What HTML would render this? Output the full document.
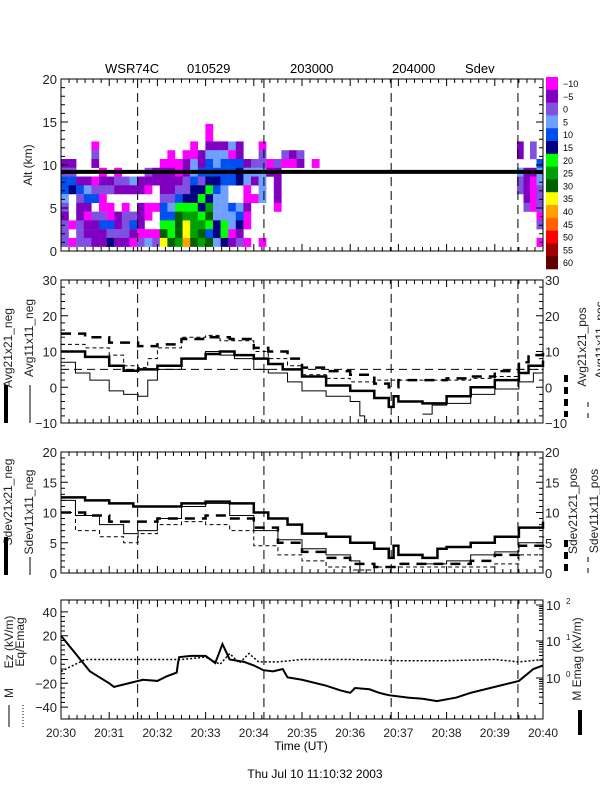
<!DOCTYPE html>
<html><head><meta charset="utf-8"><style>
html,body{margin:0;padding:0;background:#fff;}
svg{display:block;font-family:"Liberation Sans",sans-serif;}
</style></head><body>
<svg id="chart" width="600" height="800" viewBox="0 0 600 800" xmlns="http://www.w3.org/2000/svg">
<rect width="600" height="800" fill="#fff"/>
<g id="title" font-size="13" fill="#000">
<text x="105" y="73">WSR74C</text><text x="187" y="73">010529</text><text x="290" y="73">203000</text><text x="392" y="73">204000</text><text x="465" y="73">Sdev</text>
</g>
<g id="heat"></g>
<g id="colorbar"></g>
<g id="axes"></g>
<g id="lines"></g>
<text x="301" y="750" font-size="12" text-anchor="middle">Time (UT)</text>
<text x="315" y="778" font-size="12" text-anchor="middle">Thu Jul 10 11:10:32 2003</text>
</svg>
<script>
// ---------- data ----------
const colorLevels = ["-10","-5","0","5","10","15","20","25","30","35","40","45","50","55","60"];
const colorHex = ["#ff00ff","#8000c0","#8050e0","#70a0ff","#0050f0","#000080","#00ff00","#00a000","#006000","#ffff00","#ffa000","#ff6000","#ff0000","#a00000","#600000"];
// heatmap rows: altitude 14 km (top) to 1 km; letters a..o index colorLevels, '.' empty
const heatRowsLeft = [
"...................a",
"...................a",
"....a............a.bbbdb..a",
"....c.........a.aabdddab..c..cbc",
"bb..b........aaabdbedeeebccacaab.a",
"cc...a.a...cbbbabdeeeeefdddbb",
"eebbabbccdbbbbbbcecffeefdbd.b",
"efedcccbbbba.bbccffged..a.d.b",
"d.ceea.......cceffgfdd..aad.b",
"c.bb.aa.a.baaedgggfhddedb...a",
"b.baccabccba.eeihhgidddea",
"cacbbeebceb..ggijhhgfgdfa",
"c.cbbbcccbaaaigijhiefgab",
"caccbbfbbacdcjihkihidfbca.a"];
const heatRowsRight = ["....","....","b.c.","b.c.","...e","dbbd","cbad","cbac",".bac",".cac","...a","...c","....","...a"];
const altTicks = [0,5,10,15,20];
const flightAlt = 9.2;
// panel 2 (Avg) series: [minute, value] ; null = gap
const avg21Neg = [[0,10],[0.5,8.5],[1,6],[1.3,4.6],[1.6,5],[2,6],[2.5,8],[3,9.3],[3.3,10],[3.6,9],[4,8],[4.3,6.5],[4.6,5],[5,3],[5.5,0.5],[6,-1],[6.5,-3],[6.8,-5.5],[6.9,-2.5],[7,-4],[7.5,-4.5],[7.8,-4.5],[8,-2.5],[8.5,0],[9,2],[9.5,4],[9.7,6],[10,7.5]];
const avg11Neg = [[0,7],[0.3,4],[0.6,2],[1,-1],[1.3,-2],[1.6,-2.5],[1.8,2],[2,5],[2.5,8],[3,10],[3.3,9],[3.6,8],[4,5],[4.3,4],[4.7,1.5],[5,-1],[5.5,-2.5],[6,-4],[6.2,-8],[6.3,-12],[6.4,null],[7.5,-7.5],[7.7,-5],[8,-4.5],[8.5,-2],[9,-0.5],[9.5,1.5],[9.8,4],[10,6.5]];
const avg21Pos = [[0,15],[0.5,14],[1,12.5],[1.6,11.5],[2,12],[2.5,13.5],[3,14],[3.5,13.5],[4,11],[4.3,10],[4.7,8],[5,5.5],[5.5,4.5],[6,3.5],[6.5,1],[6.8,0],[7,2],[7.5,2],[8,2.5],[8.5,3],[9,4.5],[9.5,7],[9.7,9],[10,10]];
const avg11Pos = [[0,12],[0.5,11],[1,9],[1.3,6],[1.6,5.5],[1.8,8],[2,11],[2.5,14],[3,14.5],[3.3,13],[4,10],[4.3,8],[4.7,6],[5,3.5],[5.5,2.5],[6,1.5],[6.5,2],[7,2],[8,2],[8.5,2.5],[9,3],[9.5,5],[10,8]];
const avgRef = 5;
const avgTicks = [-10,0,10,20,30];
// panel 3 (Sdev)
const sdev21Neg = [[0,12.5],[0.5,12],[1,11.5],[1.5,11],[2,11],[2.5,11.5],[3,11.8],[3.5,11.5],[4,10],[4.3,9],[4.7,8],[5,6.5],[5.5,6],[6,5],[6.5,4],[6.8,2.5],[6.9,4.5],[7,3],[7.5,2.5],[7.8,2.5],[7.81,4],[8,4.3],[8.5,5],[9,6],[9.5,7.5],[10,8.5]];
const sdev11Neg = [[0,12],[0.3,9.5],[0.8,8],[1.3,6.5],[1.6,7],[2,9],[2.5,11],[3,11.5],[3.5,9.5],[4,7],[4.5,5.5],[5,4],[5.5,3],[6,2],[6.2,-0.5],[6.3,null],[7.5,1.5],[8,2],[8.5,3],[9,3.5],[9.5,5],[10,6.5]];
const sdev21Pos = [[0,10],[0.5,9.5],[1,8.5],[1.6,8.5],[2,9],[2.5,9],[3,9.5],[3.5,9],[4,7.5],[4.5,5],[5,3.5],[5.5,2.5],[6,1.5],[6.5,1],[7,1.5],[7.5,1.5],[8,1.5],[8.5,2],[9,3],[9.5,4.5],[10,6]];
const sdev11Pos = [[0,10],[0.3,7],[0.8,6],[1.3,5],[1.6,6.5],[2,8],[2.5,8.5],[3,8],[3.5,7],[4,4.5],[4.5,3],[5,2],[5.5,1],[6,0.5],[6.5,1],[7,1],[8,1],[9,1.5],[9.5,3],[10,5]];
const sdevTicks = [0,5,10,15,20];
// panel 4 (E field)
const mEz = [[0,20],[0.3,5],[0.6,-10],[1,-20],[1.1,-23],[1.3,-21],[1.5,-19],[1.7,-17],[2,-18],[2.2,-14],[2.4,-11],[2.42,-5],[2.45,2],[2.7,3],[3,3],[3.2,-3],[3.35,13],[3.5,0],[3.8,-2],[4,-5],[4.2,-9],[4.4,-10],[4.6,-8],[4.7,-15],[5,-17],[5.5,-22],[5.8,-26],[6,-28],[6.1,-24],[6.4,-25],[6.6,-28],[6.8,-30],[7.2,-32],[7.5,-33],[7.8,-35],[8.2,-32],[8.5,-28],[9,-23],[9.5,-18],[9.8,-8],[10,-5]];
const eqEmag = [[0,-10],[0.5,0],[1,0],[2,0],[2.5,0],[3,2],[3.3,-4],[3.5,5],[3.7,-3],[3.9,5],[4.1,-2],[4.5,-2],[5,0],[6,0],[7,-1],[8,-1],[9,0],[9.5,-2],[10,0]];
const efTicks = [-40,-20,0,20,40];
const xLabels = ["20:30","20:31","20:32","20:33","20:34","20:35","20:36","20:37","20:38","20:39","20:40"];
const dashedTimes = [1.59,4.21,6.85,9.48];

// ---------- geometry ----------
const X0=61,X1=543;
const xs = t => X0 + t*(X1-X0)/10;
const panels = [
 {top:79,bot:251,min:0,max:20},
 {top:280,bot:423,min:-10,max:30},
 {top:452,bot:573,min:0,max:20},
 {top:600,bot:719,min:-50,max:50}];
const ys = (p,v) => p.bot - (v-p.min)/(p.max-p.min)*(p.bot-p.top);
const NS="http://www.w3.org/2000/svg";
function mk(tag,attrs,parent){const e=document.createElementNS(NS,tag);for(const k in attrs)e.setAttribute(k,attrs[k]);parent.appendChild(e);return e;}
const axes=document.getElementById('axes'), lines=document.getElementById('lines'), heat=document.getElementById('heat'), cb=document.getElementById('colorbar');

// heatmap
function drawRows(rows,x0,cw){
 const n=rows.length;
 rows.forEach((r,ri)=>{const k=n-1-ri; const a0=0.5+k*1.02, a1=a0+1.02;
  for(let c=0;c<r.length;c++){const ch=r[c]; if(ch==='.')continue; const idx=ch.charCodeAt(0)-97; if(idx<0||idx>14)continue;
   const x=x0+c*cw; if(x>=X1)continue;
   const e=mk('rect',{x:x,y:ys(panels[0],a1),width:Math.min(cw+0.2,X1-x),height:ys(panels[0],a0)-ys(panels[0],a1)+0.2,fill:colorHex[idx]},heat);
   
   
  }});
}
drawRows(heatRowsLeft,X0,7.6);
drawRows(heatRowsRight,X1-4*6.5,6.5);
{const e=mk('line',{x1:X0,x2:X1,y1:ys(panels[0],flightAlt),y2:ys(panels[0],flightAlt),stroke:'#000','stroke-width':4},lines);

}

// colorbar
colorLevels.forEach((lab,i)=>{const h=12.8,y=77+i*h;
 const r=mk('rect',{x:546,y:y,width:12,height:h+0.3,fill:colorHex[i]},cb);
 
 
 const t=mk('text',{x:563,y:y+10,'font-size':9},cb); t.textContent=lab.replace('-','\u2212');
 
 
});

// axes frames, ticks, dashed lines
const yTicks=[altTicks,avgTicks,sdevTicks,efTicks];
panels.forEach((p,pi)=>{
 const f=mk('rect',{x:X0,y:p.top,width:X1-X0,height:p.bot-p.top,fill:'none',stroke:'#000','stroke-width':1},axes);
 
 
 let d='';
 for(let k=0;k<=60;k++){const x=xs(k/6);const L=(k%6===0)?7:4;d+=`M${x},${p.bot}v${-L}M${x},${p.top}v${L}`;}
 const ticks=yTicks[pi];
 ticks.forEach((v,i)=>{const y=ys(p,v);d+=`M${X0},${y}h7`; if(pi!==3)d+=`M${X1},${y}h-7`;
   if(i<ticks.length-1){const step=(ticks[1]-ticks[0])/5;for(let m=1;m<5;m++){const yy=ys(p,v+m*step);d+=`M${X0},${yy}h4`; if(pi!==3)d+=`M${X1},${yy}h-4`;}}
   const t=mk('text',{x:X0-4,y:y+5,'font-size':13,'text-anchor':'end',fill:'#222'},axes);t.textContent=String(v).replace('-','\u2212');
   
   
   if(pi===1||pi===2){const t2=mk('text',{x:X1+2,y:y+5,'font-size':13,fill:'#222'},axes);t2.textContent=String(v).replace('-','\u2212');
     
     }
 });
 mk('path',{d:d,stroke:'#000','stroke-width':1,fill:'none'},axes);
 dashedTimes.forEach(t=>{const e=mk('line',{x1:xs(t),x2:xs(t),y1:p.top,y2:p.bot,stroke:'#000','stroke-width':1,'stroke-dasharray':'9,5'},axes);
  
  });
});
xLabels.forEach((l,i)=>{const t=mk('text',{x:xs(i),y:737,'font-size':12,'text-anchor':'middle',fill:'#222'},axes);t.textContent=l;
 
 });
// log right axis panel 4
{let d='';
[["2",605],["1",641],["0",678]].forEach(([e,y],i)=>{const t=mk('text',{x:546,y:y+5,'font-size':13,fill:'#222'},axes);t.textContent='10';
 
 
 const s=mk('text',{x:566,y:y-1,'font-size':8,fill:'#222'},axes);s.textContent=e;
 
 
 d+=`M${X1},${y}h-7`;
 for(let m=2;m<10;m++){const yy=y+36.5*(1-Math.log10(m)); if(yy<719)d+=`M${X1},${yy}h-4`;}
});
mk('path',{d:d,stroke:'#000',fill:'none'},axes);}

function vtext(txt,x,y,name,size){const t=mk('text',{x:x,y:y,'font-size':size||12,'text-anchor':'middle',transform:`rotate(-90 ${x} ${y})`,fill:'#222'},axes);t.textContent=txt;
 
 }
vtext('Alt (km)',32,165,'y-axis-title-alt');
vtext('Avg21x21_neg',12,348,'y-axis-title-avg21-neg');
vtext('Avg11x11_neg',33,338,'y-axis-title-avg11-neg');
vtext('Avg21x21_pos',586,347,'y2-axis-title-avg21-pos');
vtext('Avg11x11_pos',604,340,'y2-axis-title-avg11-pos');
vtext('Sdev21x21_neg',12,502,'y-axis-title-sdev21-neg');
vtext('Sdev11x11_neg',33,512,'y-axis-title-sdev11-neg');
vtext('Sdev21x21_pos',577,511,'y2-axis-title-sdev21-pos');
vtext('Sdev11x11_pos',598,511,'y2-axis-title-sdev11-pos');
vtext('Ez  (kV/m)',13,642,'y-axis-title-ez');
vtext('M',13,693,'y-axis-title-ez-prefix');
vtext('Eq/Emag',24,642,'y-axis-title-eq-emag');
vtext('M  Emag  (kV/m)',581,659,'y2-axis-title-emag');
const leg=[['M6,385V423',4,''],['M30,385V423',1,''],['M566,375V417',4,'7,5'],['M588,402V423',1,'5,6'],
['M6,537V575',4,''],['M30,557V575',1,''],['M566,540V575',4,'7,5'],['M588,557V575',1,'5,6'],
['M9,705V727',1,''],['M23,705V727',1,'1,2'],['M580,710V735',4,'']];
leg.forEach(([d,w,da])=>{const e=mk('path',{d:d,stroke:'#000','stroke-width':w,'stroke-dasharray':da,fill:'none'},axes);
 
 });

// series
function stepPath(p,data){let d='',pen=false;
 for(let i=0;i<data.length;i++){const [t,v]=data[i];if(v===null){pen=false;continue;}
  const x=xs(t),y=Math.min(p.bot,Math.max(p.top,ys(p,v)));
  if(!pen){d+=`M${x},${y}`;pen=true;}else{d+=`H${x}V${y}`;}
  if(i+1>=data.length){d+=`H${xs(Math.min(10,t+0.02))}`;}
 }return d;}
function linePath(p,data){return data.map(([t,v],i)=>`${i?'L':'M'}${xs(t)},${Math.min(p.bot,Math.max(p.top,ys(p,v)))}`).join('');}
function series(d,w,da,name){const e=mk('path',{d:d,stroke:'#000','stroke-width':w,'stroke-dasharray':da,fill:'none'},lines);
 
 }
series(stepPath(panels[1],avg21Neg),2.5,'','line-avg21-neg');
series(stepPath(panels[1],avg11Neg),1,'','line-avg11-neg');
series(stepPath(panels[1],avg21Pos),2.5,'10,7','line-avg21-pos');
series(stepPath(panels[1],avg11Pos),1,'4,3','line-avg11-pos');
series(`M${X0},${ys(panels[1],avgRef)}H${X1}`,1,'8,5','reference-line-avg');
series(stepPath(panels[2],sdev21Neg),2.5,'','line-sdev21-neg');
series(stepPath(panels[2],sdev11Neg),1,'','line-sdev11-neg');
series(stepPath(panels[2],sdev21Pos),2.5,'10,7','line-sdev21-pos');
series(stepPath(panels[2],sdev11Pos),1,'4,3','line-sdev11-pos');
series(linePath(panels[3],mEz),2,'','line-m-ez');
series(linePath(panels[3],eqEmag),1.5,'2,2','line-eq-emag');
</script>
</body></html>
